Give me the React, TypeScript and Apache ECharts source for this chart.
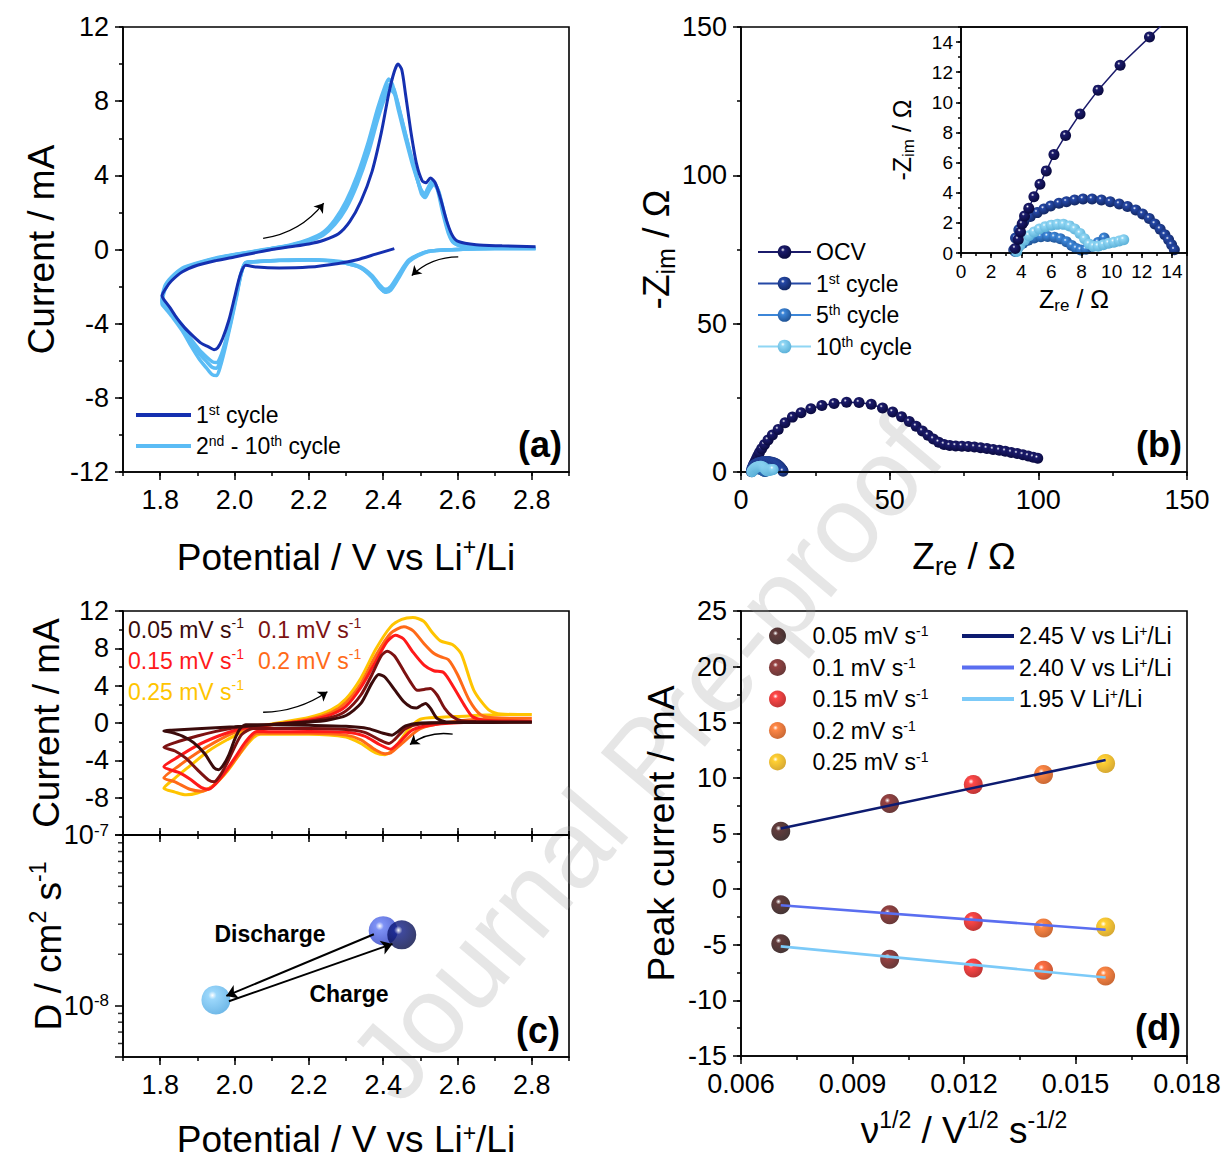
import React, { useEffect, useRef } from "react";
import * as echarts from "echarts";

const FONT = '"Liberation Sans", Arial, Helvetica, sans-serif';

// ---------------- (a) CV, 1st and 2nd-10th cycles ----------------
const cvFirstCycle = [
  [2.43, 0.05], [2.38, -0.25], [2.33, -0.55], [2.28, -0.75], [2.2, -0.95], [2.12, -1.0], [2.06, -0.95], [2.03, -0.85],
  [2.015, -1.4], [2.0, -2.6], [1.985, -3.8], [1.968, -4.8], [1.955, -5.3], [1.945, -5.4], [1.93, -5.25], [1.91, -5.05],
  [1.89, -4.7], [1.865, -4.2], [1.845, -3.7], [1.825, -3.1], [1.81, -2.7], [1.805, -2.5], [1.815, -2.1], [1.83, -1.7],
  [1.86, -1.2], [1.9, -0.85], [1.95, -0.6], [2.0, -0.4], [2.05, -0.2], [2.1, 0.0], [2.15, 0.15], [2.2, 0.3], [2.24, 0.5],
  [2.28, 0.85], [2.31, 1.5], [2.34, 2.6], [2.37, 4.2], [2.395, 6.3], [2.415, 8.4], [2.43, 9.6], [2.44, 10.0], [2.45, 9.7],
  [2.46, 8.4], [2.475, 6.3], [2.49, 4.6], [2.505, 3.7], [2.515, 3.6], [2.527, 3.85], [2.54, 3.6], [2.555, 2.7], [2.57, 1.6],
  [2.585, 0.8], [2.6, 0.45], [2.65, 0.25], [2.72, 0.2], [2.81, 0.15],
];
const cvCycle2 = [
  [2.81, 0.05], [2.7, 0.05], [2.6, 0.0], [2.52, -0.1], [2.47, -0.6], [2.44, -1.5], [2.42, -2.1], [2.405, -2.3], [2.39, -2.0],
  [2.37, -1.5], [2.34, -1.0], [2.3, -0.75], [2.25, -0.6], [2.2, -0.55], [2.12, -0.58], [2.06, -0.65], [2.03, -0.7],
  [2.018, -1.3], [2.005, -2.6], [1.99, -4.0], [1.975, -5.3], [1.962, -6.3], [1.952, -6.8], [1.94, -6.75], [1.925, -6.4],
  [1.905, -5.9], [1.88, -5.1], [1.86, -4.4], [1.835, -3.7], [1.815, -3.2], [1.805, -2.95], [1.812, -2.2], [1.83, -1.6],
  [1.86, -1.1], [1.9, -0.8], [1.95, -0.5], [2.0, -0.3], [2.05, -0.15], [2.1, 0.05], [2.15, 0.25], [2.2, 0.55], [2.24, 0.95],
  [2.27, 1.6], [2.3, 2.6], [2.33, 4.0], [2.36, 5.8], [2.385, 7.6], [2.405, 8.8], [2.415, 9.2], [2.425, 8.9], [2.44, 7.6],
  [2.46, 6.0], [2.48, 4.5], [2.5, 3.3], [2.51, 2.9], [2.52, 3.3], [2.532, 3.7], [2.545, 3.3], [2.56, 2.0], [2.575, 0.9],
  [2.59, 0.35], [2.64, 0.12], [2.81, 0.05],
];
const cvCycle5 = [
  [2.81, 0.05], [2.7, 0.05], [2.6, 0.0], [2.52, -0.1], [2.47, -0.55], [2.44, -1.4], [2.42, -2.0], [2.405, -2.15], [2.39, -1.9],
  [2.37, -1.4], [2.34, -0.95], [2.3, -0.7], [2.25, -0.58], [2.2, -0.55], [2.12, -0.58], [2.06, -0.65], [2.03, -0.7],
  [2.018, -1.3], [2.005, -2.5], [1.99, -3.9], [1.975, -5.1], [1.962, -6.0], [1.952, -6.4], [1.94, -6.35], [1.925, -6.05],
  [1.905, -5.6], [1.88, -4.9], [1.86, -4.25], [1.835, -3.6], [1.815, -3.1], [1.805, -2.85], [1.812, -2.1], [1.83, -1.55],
  [1.86, -1.05], [1.9, -0.75], [1.95, -0.48], [2.0, -0.28], [2.05, -0.12], [2.1, 0.05], [2.15, 0.22], [2.2, 0.5], [2.24, 0.85],
  [2.27, 1.45], [2.3, 2.4], [2.33, 3.7], [2.36, 5.5], [2.385, 7.3], [2.405, 8.5], [2.418, 8.9], [2.43, 8.6], [2.445, 7.4],
  [2.465, 5.8], [2.485, 4.3], [2.5, 3.3], [2.512, 3.0], [2.522, 3.3], [2.535, 3.6], [2.548, 3.2], [2.562, 2.0], [2.577, 0.9],
  [2.592, 0.35], [2.64, 0.12], [2.81, 0.05],
];
const cvCycle10 = [
  [2.81, 0.05], [2.7, 0.05], [2.6, 0.0], [2.52, -0.12], [2.47, -0.65], [2.44, -1.6], [2.42, -2.2], [2.408, -2.3], [2.39, -2.05],
  [2.37, -1.5], [2.34, -1.0], [2.3, -0.75], [2.25, -0.6], [2.2, -0.56], [2.12, -0.6], [2.06, -0.66], [2.03, -0.72],
  [2.018, -1.25], [2.005, -2.4], [1.99, -3.8], [1.975, -5.0], [1.962, -5.8], [1.952, -6.1], [1.94, -6.05], [1.925, -5.8],
  [1.905, -5.4], [1.88, -4.75], [1.86, -4.1], [1.835, -3.5], [1.815, -3.0], [1.805, -2.75], [1.812, -2.0], [1.83, -1.5],
  [1.86, -1.0], [1.9, -0.72], [1.95, -0.45], [2.0, -0.27], [2.05, -0.1], [2.1, 0.06], [2.15, 0.2], [2.2, 0.45], [2.24, 0.8],
  [2.27, 1.35], [2.3, 2.2], [2.33, 3.5], [2.36, 5.2], [2.385, 7.0], [2.405, 8.2], [2.42, 8.6], [2.433, 8.3], [2.448, 7.2],
  [2.468, 5.6], [2.488, 4.1], [2.503, 3.0], [2.513, 2.8], [2.524, 3.2], [2.537, 3.5], [2.55, 3.1], [2.565, 1.9], [2.58, 0.85],
  [2.595, 0.3], [2.64, 0.1], [2.81, 0.05],
];
const arrowAnodicA = [[2.077, 0.6], [2.24, 2.5]];
const arrowCathodicA = [[2.602, -0.4], [2.477, -1.4]];

// ---------------- (b) EIS Nyquist ----------------
const eisOCV = [
  [3.6, 0.3], [3.8, 0.9], [3.95, 1.4], [4.06, 1.93], [4.22, 2.46], [4.5, 2.97], [4.84, 3.74], [5.24, 4.57], [5.66, 5.45],
  [6.17, 6.53], [6.94, 7.8], [7.9, 9.23], [9.1, 10.81], [10.56, 12.46], [12.51, 14.33], [14.8, 16.6], [17.3, 18.5],
  [20.2, 20.0], [23.5, 21.3], [27.2, 22.4], [31.3, 23.1], [35.5, 23.5], [39.7, 23.4], [43.8, 22.8], [47.6, 21.6],
  [51.0, 20.2], [54.0, 18.6], [56.6, 17.0], [58.9, 15.4], [61.0, 13.8], [62.9, 12.4], [64.7, 11.1], [66.5, 10.0],
  [68.3, 9.3], [70.2, 8.9], [72.2, 8.8], [74.3, 8.7], [76.4, 8.6], [78.5, 8.4], [80.6, 8.2], [82.7, 7.9], [84.8, 7.6],
  [86.9, 7.3], [88.9, 7.0], [90.9, 6.6], [92.9, 6.2], [94.8, 5.8], [96.6, 5.4], [98.3, 5.0], [99.8, 4.6],
];
const eis1st = [
  [3.5, 0.2], [3.62, 0.99], [3.84, 1.54], [4.17, 2.09], [4.6, 2.42], [5.06, 2.68], [5.5, 2.92], [5.95, 3.12], [6.5, 3.3],
  [7.0, 3.4], [7.54, 3.52], [8.1, 3.58], [8.7, 3.58], [9.32, 3.52], [9.9, 3.4], [10.5, 3.25], [11.05, 3.08], [11.6, 2.86],
  [12.05, 2.59], [12.5, 2.29], [12.87, 1.93], [13.22, 1.58], [13.53, 1.21], [13.78, 0.88], [13.98, 0.55], [14.16, 0.22],
];
const eis5th = [
  [3.6, 0.1], [3.8, 0.4], [4.1, 0.65], [4.45, 0.85], [4.85, 1.0], [5.3, 1.08], [5.75, 1.1], [6.2, 1.05], [6.6, 0.95],
  [7.0, 0.75], [7.35, 0.5], [7.65, 0.3], [7.95, 0.2], [8.3, 0.25], [8.7, 0.45], [9.1, 0.7], [9.5, 1.0],
];
const eis10th = [
  [3.7, 0.1], [3.9, 0.5], [4.2, 0.85], [4.5, 1.15], [4.85, 1.4], [5.2, 1.6], [5.6, 1.75], [6.0, 1.85], [6.4, 1.9],
  [6.8, 1.9], [7.2, 1.8], [7.55, 1.6], [7.9, 1.3], [8.2, 0.95], [8.5, 0.6], [8.8, 0.45], [9.1, 0.45], [9.45, 0.55],
  [9.8, 0.65], [10.15, 0.72], [10.5, 0.8], [10.8, 0.88],
];

// ---------------- (c) CV at different scan rates + diffusion coefficient ----------------
const scanRates = ["0.05", "0.1", "0.15", "0.2", "0.25"];
const cvRate005 = [
  [2.8, 0.08], [2.6, 0.05], [2.5, 0.0], [2.46, -0.3], [2.44, -0.9], [2.424, -1.3], [2.4, -1.1], [2.36, -0.6], [2.3, -0.35],
  [2.2, -0.25], [2.1, -0.2], [2.03, -0.2], [2.015, -0.6], [2.0, -1.8], [1.985, -3.4], [1.97, -4.5], [1.957, -5.0],
  [1.945, -4.8], [1.92, -3.3], [1.89, -2.1], [1.86, -1.4], [1.83, -1.0], [1.81, -0.85], [1.83, -0.78], [1.9, -0.62],
  [2.0, -0.4], [2.1, -0.15], [2.2, 0.1], [2.25, 0.3], [2.3, 0.8], [2.34, 2.1], [2.37, 4.3], [2.388, 5.2], [2.405, 4.9],
  [2.43, 3.6], [2.455, 2.3], [2.475, 1.7], [2.49, 1.6], [2.503, 1.9], [2.514, 2.1], [2.527, 1.6], [2.545, 0.5],
  [2.57, 0.12], [2.8, 0.08],
];
const cvRate010 = [
  [2.8, 0.1], [2.6, 0.05], [2.5, -0.1], [2.46, -0.6], [2.43, -1.8], [2.415, -2.2], [2.39, -1.8], [2.35, -1.0], [2.3, -0.7],
  [2.2, -0.6], [2.1, -0.6], [2.05, -0.6], [2.02, -1.2], [2.0, -2.6], [1.98, -4.3], [1.96, -5.7], [1.945, -6.3],
  [1.93, -6.1], [1.9, -5.0], [1.87, -3.8], [1.84, -3.0], [1.81, -2.6], [1.84, -2.1], [1.9, -1.4], [1.95, -0.9],
  [2.0, -0.5], [2.1, -0.15], [2.2, 0.2], [2.26, 0.6], [2.3, 1.3], [2.34, 3.0], [2.37, 5.2], [2.395, 7.2], [2.411, 7.7],
  [2.43, 7.2], [2.455, 5.6], [2.475, 4.3], [2.492, 3.5], [2.51, 3.6], [2.527, 3.7], [2.545, 3.0], [2.565, 1.6],
  [2.586, 0.7], [2.61, 0.25], [2.65, 0.15], [2.8, 0.1],
];
const cvRate015 = [
  [2.8, 0.2], [2.65, 0.12], [2.55, -0.1], [2.48, -0.7], [2.44, -2.2], [2.42, -2.8], [2.39, -2.3], [2.35, -1.4], [2.3, -1.0],
  [2.2, -0.9], [2.1, -0.95], [2.06, -0.9], [2.03, -2.0], [2.0, -3.8], [1.97, -5.5], [1.945, -6.7], [1.93, -7.1],
  [1.91, -6.9], [1.88, -6.0], [1.85, -5.3], [1.81, -4.7], [1.85, -3.6], [1.9, -2.4], [1.95, -1.5], [2.0, -0.8],
  [2.05, -0.4], [2.1, -0.2], [2.2, 0.3], [2.26, 0.9], [2.3, 1.8], [2.34, 3.8], [2.38, 6.6], [2.41, 8.7], [2.433, 9.4],
  [2.455, 9.0], [2.48, 7.6], [2.51, 6.2], [2.536, 5.6], [2.563, 5.4], [2.59, 3.8], [2.617, 2.0], [2.64, 0.7],
  [2.67, 0.3], [2.8, 0.2],
];
const cvRate020 = [
  [2.8, 0.5], [2.68, 0.45], [2.58, 0.1], [2.5, -0.6], [2.45, -2.2], [2.42, -3.2], [2.405, -3.3], [2.38, -2.9], [2.34, -1.8],
  [2.3, -1.3], [2.2, -1.1], [2.1, -1.1], [2.06, -1.1], [2.04, -1.8], [2.01, -3.5], [1.97, -5.6], [1.94, -6.8],
  [1.91, -7.3], [1.88, -7.1], [1.84, -6.3], [1.81, -5.9], [1.85, -4.6], [1.9, -3.2], [1.95, -2.0], [2.0, -1.0],
  [2.05, -0.45], [2.1, -0.2], [2.2, 0.4], [2.26, 1.1], [2.3, 2.2], [2.34, 4.2], [2.38, 7.2], [2.42, 9.6], [2.456, 10.3],
  [2.48, 9.9], [2.51, 8.5], [2.535, 7.5], [2.554, 7.1], [2.575, 6.8], [2.6, 5.2], [2.631, 2.5], [2.662, 0.9],
  [2.7, 0.55], [2.8, 0.5],
];
const cvRate025 = [
  [2.8, 0.9], [2.72, 0.9], [2.6, 0.7], [2.55, 0.6], [2.5, 0.4], [2.47, -0.6], [2.44, -2.2], [2.42, -3.1], [2.405, -3.4],
  [2.38, -3.2], [2.34, -2.2], [2.3, -1.5], [2.2, -1.2], [2.1, -1.2], [2.07, -1.2], [2.05, -1.6], [2.02, -3.0],
  [1.98, -5.2], [1.94, -6.8], [1.9, -7.5], [1.87, -7.7], [1.84, -7.4], [1.81, -7.0], [1.84, -5.9], [1.88, -4.6],
  [1.93, -3.0], [1.98, -1.8], [2.03, -0.8], [2.1, -0.1], [2.2, 0.6], [2.26, 1.4], [2.3, 2.6], [2.34, 4.8], [2.38, 7.9],
  [2.42, 10.3], [2.45, 11.1], [2.48, 11.3], [2.509, 10.9], [2.53, 9.8], [2.554, 8.8], [2.586, 8.4], [2.61, 7.4],
  [2.644, 3.5], [2.684, 1.4], [2.716, 0.96], [2.8, 0.9],
];
const arrowAnodicC = [[2.077, 1.15], [2.25, 3.35]];
const arrowCathodicC = [[2.587, -1.2], [2.472, -2.3]];
const peakPotential = [1.95, 2.4, 2.45];
const diffusionCoef = [1.08e-8, 2.75e-8, 2.6e-8];
const arrowDischarge = [[2.375, 2.62e-8], [1.978, 1.14e-8]];
const arrowCharge = [[1.985, 1.06e-8], [2.425, 2.3e-8]];
const logMinorTicks = [6e-9, 7e-9, 8e-9, 9e-9, 2e-8, 3e-8, 4e-8, 5e-8, 6e-8, 7e-8, 8e-8, 9e-8];

// ---------------- (d) Randles-Sevcik ----------------
const sqrtScanRate = [0.00707, 0.01, 0.01225, 0.01414, 0.01581];
const ipeak245 = [5.2, 7.7, 9.4, 10.3, 11.3];
const ipeak240 = [-1.4, -2.3, -2.9, -3.5, -3.4];
const ipeak195 = [-4.9, -6.3, -7.1, -7.3, -7.8];
const fitRange = [0.00707, 0.01581];
const fit245 = [5.45, 11.6];
const fit240 = [-1.45, -3.65];
const fit195 = [-5.15, -7.95];

// ---------------- ticks ----------------
const potTicks = [1.8, 2.0, 2.2, 2.4, 2.6, 2.8];
const curTicks = [-12, -8, -4, 0, 4, 8, 12];
const curLabelsC = [-8, -4, 0, 4, 8, 12];
const zTicks = [0, 50, 100, 150];
const zInsetTicks = [0, 2, 4, 6, 8, 10, 12, 14];
const rootTicks = [0.006, 0.009, 0.012, 0.015, 0.018];
const peakTicks = [-15, -10, -5, 0, 5, 10, 15, 20, 25];

// ---------------- styles ----------------
const rateColors = ["#3b0b0b", "#7d1212", "#ff1a1a", "#ff6a18", "#ffc400"];
const rateDark = ["#140303", "#3e0606", "#a80000", "#b84000", "#c99000"];

const LEG: Record<string, string> = {
  a1: "1{s|st} cycle",
  a2: "2{s|nd} - 10{s|th} cycle",
  bOCV: "OCV",
  b1: "1{s|st} cycle",
  b5: "5{s|th} cycle",
  b10: "10{s|th} cycle",
  r0: "0.05 mV s{s|-1}",
  r1: "0.1 mV s{s|-1}",
  r2: "0.15 mV s{s|-1}",
  r3: "0.2 mV s{s|-1}",
  r4: "0.25 mV s{s|-1}",
  f245: "2.45 V vs Li{s|+}/Li",
  f240: "2.40 V vs Li{s|+}/Li",
  f195: "1.95 V Li{s|+}/Li",
};

function richFor(fs: number) {
  return {
    s: { fontSize: Math.round(fs * 0.62), lineHeight: Math.round(fs * 0.5), verticalAlign: "top", fontFamily: FONT },
    b: { fontSize: Math.round(fs * 0.68), lineHeight: Math.round(fs * 0.25), verticalAlign: "bottom", fontFamily: FONT },
  };
}

function sphere(base: string, dark: string) {
  return {
    type: "radial",
    x: 0.38,
    y: 0.34,
    r: 0.72,
    colorStops: [
      { offset: 0, color: "#ffffff" },
      { offset: 0.2, color: base },
      { offset: 1, color: dark },
    ],
  };
}

const tickLine = { color: "#000", width: 1.5 };

function major(o: any) {
  const fs = o.fs ?? 27;
  const nfs = o.nfs ?? 37;
  return {
    type: "value",
    gridIndex: o.grid,
    position: o.pos,
    min: o.min,
    max: o.max,
    axisLine: { show: true, onZero: false, lineStyle: { color: "#000", width: 1.6 } },
    axisTick: { show: true, inside: false, length: o.tickLen ?? 8, customValues: o.ticks, lineStyle: tickLine },
    axisLabel: o.labels
      ? {
          show: true,
          customValues: o.labels,
          formatter: o.fmt,
          fontSize: fs,
          margin: o.margin ?? 14,
          color: "#000",
          fontFamily: FONT,
          hideOverlap: false,
          rich: richFor(fs),
        }
      : { show: false },
    splitLine: { show: false },
    minorTick: { show: false },
    name: o.name,
    nameLocation: "middle",
    nameGap: o.nameGap,
    nameMoveOverlap: false,
    nameTextStyle: {
      fontSize: nfs,
      fontFamily: FONT,
      color: "#000",
      lineHeight: o.nlh ?? Math.round(nfs * 1.2),
      rich: richFor(nfs),
    },
    z: 5,
  };
}

function minor(grid: number, pos: string, min: number, max: number, step: number, len = 4) {
  return {
    type: "value",
    gridIndex: grid,
    position: pos,
    min,
    max,
    interval: step,
    axisLine: { show: false, onZero: false },
    axisTick: { show: true, inside: false, length: len, lineStyle: tickLine },
    axisLabel: { show: false },
    splitLine: { show: false },
    z: 5,
  };
}

const f0 = (v: number) => String(Math.round(v));
const f1 = (v: number) => v.toFixed(1);
const f3 = (v: number) => v.toFixed(3);
const logFmt = (v: number) => {
  const l = Math.log10(v);
  const e = Math.round(l);
  if (Math.abs(l - e) > 0.01) return "";
  return "10{s|" + e + "}";
};

function cvLine(name: string, data: number[][], xi: number, yi: number, color: string, width: number, z: number) {
  return {
    type: "line",
    name,
    data,
    xAxisIndex: xi,
    yAxisIndex: yi,
    symbol: "none",
    smooth: 0.25,
    lineStyle: { color, width },
    itemStyle: { color },
    z,
    silent: true,
  };
}

function eisLine(name: string, data: number[][], xi: number, yi: number, base: string, dark: string, z: number) {
  return {
    type: "line",
    name,
    data,
    xAxisIndex: xi,
    yAxisIndex: yi,
    symbol: "circle",
    symbolSize: 11,
    showSymbol: true,
    showAllSymbol: true,
    lineStyle: { color: base, width: 1.5 },
    itemStyle: { color: sphere(base, dark) },
    z,
    silent: true,
  };
}

function arrows(xi: number, yi: number, list: { c: number[][]; k: number }[], width: number, size: number) {
  return {
    type: "lines",
    coordinateSystem: "cartesian2d",
    xAxisIndex: xi,
    yAxisIndex: yi,
    symbol: ["none", "arrow"],
    symbolSize: size,
    silent: true,
    z: 6,
    lineStyle: { color: "#000", width, opacity: 1 },
    data: list.map((a) => ({ coords: a.c, lineStyle: { curveness: a.k } })),
  };
}

const gridBase = {
  show: true,
  borderColor: "#000",
  borderWidth: 1.6,
  backgroundColor: "transparent",
  containLabel: false,
  outerBoundsMode: "none",
};

function buildOption() {
  const cvRates = [cvRate005, cvRate010, cvRate015, cvRate020, cvRate025];
  const row195Colors = [rateColors[0], rateColors[1], rateColors[2], "#ff4a14", rateColors[3]];
  const row195Dark = [rateDark[0], rateDark[1], rateDark[2], "#b02a00", rateDark[3]];
  const dColors = [
    ["#82cdfa", "#48a4e0"],
    ["#5d76f2", "#2a3cc0"],
    ["#0f1c84", "#040a40"],
  ];

  const xAxis = [
    major({ grid: 0, pos: "bottom", min: 1.7, max: 2.9, ticks: potTicks, labels: potTicks, fmt: f1, name: "Potential / V vs Li{s|+}/Li", nameGap: 63 }), // 0
    minor(0, "bottom", 1.7, 2.9, 0.1), // 1
    major({ grid: 1, pos: "bottom", min: 0, max: 150, ticks: zTicks, labels: zTicks, fmt: f0, name: "Z{b|re} / Ω", nameGap: 62 }), // 2
    minor(1, "bottom", 0, 150, 25), // 3
    major({ grid: 2, pos: "bottom", min: 0, max: 15, ticks: zInsetTicks, labels: zInsetTicks, fmt: f0, fs: 19, margin: 9, tickLen: 5, name: "Z{b|re} / Ω", nameGap: 31, nfs: 25 }), // 4
    minor(2, "bottom", 0, 15, 1, 3), // 5
    major({ grid: 3, pos: "bottom", min: 1.7, max: 2.9, ticks: potTicks, labels: null, tickLen: 7 }), // 6
    minor(3, "bottom", 1.7, 2.9, 0.1), // 7
    major({ grid: 4, pos: "bottom", min: 1.7, max: 2.9, ticks: potTicks, labels: potTicks, fmt: f1, name: "Potential / V vs Li{s|+}/Li", nameGap: 64, nlh: 36 }), // 8
    minor(4, "bottom", 1.7, 2.9, 0.1), // 9
    major({ grid: 4, pos: "top", min: 1.7, max: 2.9, ticks: potTicks, labels: null, tickLen: 7 }), // 10
    minor(4, "top", 1.7, 2.9, 0.1), // 11
    major({ grid: 5, pos: "bottom", min: 0.006, max: 0.018, ticks: rootTicks, labels: rootTicks, fmt: f3, name: "ν{s|1/2} / V{s|1/2} s{s|-1/2}", nameGap: 52 }), // 12
    minor(5, "bottom", 0.006, 0.018, 0.0015), // 13
  ];

  const yAxis: any[] = [
    major({ grid: 0, pos: "left", min: -12, max: 12, ticks: curTicks, labels: curTicks, fmt: f0, name: "Current / mA", nameGap: 60 }), // 0
    minor(0, "left", -12, 12, 2), // 1
    major({ grid: 1, pos: "left", min: 0, max: 150, ticks: zTicks, labels: zTicks, fmt: f0, name: "-Z{b|im} / Ω", nameGap: 63 }), // 2
    minor(1, "left", 0, 150, 25), // 3
    major({ grid: 2, pos: "left", min: 0, max: 15, ticks: zInsetTicks, labels: zInsetTicks, fmt: f0, fs: 19, margin: 8, tickLen: 5, name: "-Z{b|im} / Ω", nameGap: 44, nfs: 25 }), // 4
    minor(2, "left", 0, 15, 1, 3), // 5
    major({ grid: 3, pos: "left", min: -12, max: 12, ticks: curTicks, labels: curLabelsC, fmt: f0, name: "Current / mA", nameGap: 55 }), // 6
    minor(3, "left", -12, 12, 2), // 7
    {
      type: "log",
      logBase: 10,
      gridIndex: 4,
      position: "left",
      min: 5e-9,
      max: 1e-7,
      axisLine: { show: true, onZero: false, lineStyle: { color: "#000", width: 1.6 } },
      axisTick: { show: true, inside: false, length: 8, lineStyle: tickLine },
      axisLabel: { formatter: logFmt, fontSize: 27, margin: 14, color: "#000", fontFamily: FONT, rich: richFor(27) },
      splitLine: { show: false },
      minorTick: { show: false },
      name: "D / cm{s|2} s{s|-1}",
      nameLocation: "middle",
      nameGap: 53,
      nameMoveOverlap: false,
      nameTextStyle: { fontSize: 37, fontFamily: FONT, color: "#000", lineHeight: 44, rich: richFor(37) },
      z: 5,
    }, // 8
    major({ grid: 5, pos: "left", min: -15, max: 25, ticks: peakTicks, labels: peakTicks, fmt: f0, name: "Peak current / mA", nameGap: 58 }), // 9
    minor(5, "left", -15, 25, 2.5), // 10
  ];

  const series: any[] = [];
  // (a)
  series.push(cvLine("a2", cvCycle2, 0, 0, "#5bbcf5", 3.5, 2));
  series.push(cvLine("a2", cvCycle5, 0, 0, "#5bbcf5", 3.5, 2));
  series.push(cvLine("a2", cvCycle10, 0, 0, "#5bbcf5", 3.5, 2));
  series.push(cvLine("a1", cvFirstCycle, 0, 0, "#1530b0", 3, 3));
  series.push(arrows(0, 0, [{ c: arrowAnodicA, k: -0.2 }, { c: arrowCathodicA, k: -0.2 }], 1.3, 9));
  // (b) main
  series.push(eisLine("bOCV", eisOCV, 2, 2, "#1b1b6b", "#08083a", 3));
  series.push(eisLine("b1", eis1st, 2, 2, "#2548a6", "#11245c", 4));
  series.push(eisLine("b5", eis5th, 2, 2, "#3c86d8", "#1d4f90", 5));
  series.push(eisLine("b10", eis10th, 2, 2, "#8fd6f4", "#58aed6", 6));
  // (b) inset
  series.push(eisLine("i1", eis1st, 4, 4, "#2548a6", "#11245c", 3));
  series.push(eisLine("i5", eis5th, 4, 4, "#3c86d8", "#1d4f90", 4));
  series.push(eisLine("i10", eis10th, 4, 4, "#8fd6f4", "#58aed6", 5));
  series.push(eisLine("iOCV", eisOCV, 4, 4, "#1b1b6b", "#08083a", 6));
  // (c) top
  for (let i = cvRates.length - 1; i >= 0; i--) {
    series.push(cvLine("c" + i, cvRates[i], 6, 6, rateColors[i], 3, 2 + (cvRates.length - i)));
  }
  series.push(arrows(6, 6, [{ c: arrowAnodicC, k: -0.15 }, { c: arrowCathodicC, k: -0.2 }], 1.3, 9));
  // (c) bottom
  series.push({
    type: "scatter",
    name: "D",
    xAxisIndex: 8,
    yAxisIndex: 8,
    symbolSize: 29,
    silent: true,
    z: 4,
    data: peakPotential.map((p, i) => ({ value: [p, diffusionCoef[i]], itemStyle: { color: sphere(dColors[i][0], dColors[i][1]) } })),
  });
  series.push(arrows(8, 8, [{ c: arrowDischarge, k: 0 }, { c: arrowCharge, k: 0 }], 2, 11));
  series.push({
    type: "scatter",
    name: "logMinor",
    xAxisIndex: 8,
    yAxisIndex: 8,
    symbol: "rect",
    symbolSize: [5, 1.5],
    symbolOffset: [-2.5, 0],
    clip: false,
    silent: true,
    z: 6,
    itemStyle: { color: "#000" },
    data: logMinorTicks.map((v) => [1.7, v]),
  });
  // (d)
  for (let i = 0; i < sqrtScanRate.length; i++) {
    const x = sqrtScanRate[i];
    series.push({
      type: "scatter",
      name: "r" + i,
      xAxisIndex: 12,
      yAxisIndex: 9,
      symbolSize: 19,
      silent: true,
      z: 3,
      itemStyle: { color: sphere(rateColors[i], rateDark[i]) },
      data: [
        [x, ipeak245[i]],
        [x, ipeak240[i]],
        { value: [x, ipeak195[i]], itemStyle: { color: sphere(row195Colors[i], row195Dark[i]) } },
      ],
    });
  }
  const fits: [string, number[], string][] = [
    ["f245", fit245, "#0d1b70"],
    ["f240", fit240, "#5a6ef0"],
    ["f195", fit195, "#7ccaf8"],
  ];
  fits.forEach(([name, f, color]) => {
    series.push({
      type: "line",
      name,
      xAxisIndex: 12,
      yAxisIndex: 9,
      symbol: "none",
      silent: true,
      z: 4,
      lineStyle: { color, width: 2.6 },
      itemStyle: { color },
      data: [
        [fitRange[0], f[0]],
        [fitRange[1], f[1]],
      ],
    });
  });

  const legText = (fs: number) => ({ fontSize: fs, fontFamily: FONT, color: "#000", lineHeight: 24, rich: richFor(fs) });
  const legBase = { orient: "vertical", padding: 0, selectedMode: false, formatter: (n: string) => LEG[n], textStyle: legText(23) };
  const legend = [
    { ...legBase, data: ["a1", "a2"], left: 136, top: 403, icon: "rect", itemWidth: 55, itemHeight: 4, itemGap: 7 },
    { ...legBase, data: ["bOCV", "b1", "b5", "b10"], left: 757, top: 240, itemWidth: 53, itemHeight: 17, itemGap: 7.5 },
    { ...legBase, data: ["r0", "r1", "r2", "r3", "r4"], left: 769, top: 624, itemWidth: 60, itemHeight: 17, itemGap: 7.5 },
    { ...legBase, data: ["f245", "f240", "f195"], left: 962, top: 624, icon: "rect", itemWidth: 52, itemHeight: 4, itemGap: 7.5 },
  ];

  const gRich = (fs: number) => ({
    s: { fontSize: Math.round(fs * 0.62), lineHeight: Math.round(fs * 0.5), verticalAlign: "top", fontFamily: FONT },
  });
  const cLegendPos = [
    [128, 630],
    [258, 630],
    [128, 661],
    [258, 661],
    [128, 692],
  ];
  const elements: any[] = [
    {
      type: "text",
      x: 645,
      y: 758,
      rotation: 0.87,
      z: 1,
      silent: true,
      style: { text: "Journal Pre-proof", fontSize: 110, fontFamily: FONT, fill: "rgba(150,150,150,0.24)", align: "center", verticalAlign: "middle" },
    },
  ];
  scanRates.forEach((r, i) => {
    elements.push({
      type: "text",
      x: cLegendPos[i][0],
      y: cLegendPos[i][1],
      z: 100,
      style: { text: r + " mV s{s|-1}", fill: rateColors[i], fontSize: 23, fontFamily: FONT, lineHeight: 28, align: "left", verticalAlign: "middle", rich: gRich(23) },
    });
  });
  const panelLabels: [string, number, number][] = [
    ["(a)", 562, 444],
    ["(b)", 1182, 444],
    ["(c)", 560, 1030],
    ["(d)", 1181, 1027],
  ];
  panelLabels.forEach(([t, x, y]) => {
    elements.push({ type: "text", x, y, z: 100, style: { text: t, fontSize: 36, fontWeight: "bold", fontFamily: FONT, fill: "#000", align: "right", verticalAlign: "middle" } });
  });
  elements.push({ type: "text", x: 270, y: 934, z: 100, style: { text: "Discharge", fontSize: 23, fontWeight: "bold", fontFamily: FONT, fill: "#000", align: "center", verticalAlign: "middle" } });
  elements.push({ type: "text", x: 349, y: 994, z: 100, style: { text: "Charge", fontSize: 23, fontWeight: "bold", fontFamily: FONT, fill: "#000", align: "center", verticalAlign: "middle" } });

  return {
    animation: false,
    backgroundColor: "#ffffff",
    textStyle: { fontFamily: FONT },
    grid: [
      { ...gridBase, left: 123, top: 27, width: 446, height: 445 },
      { ...gridBase, left: 741, top: 27, width: 446, height: 445 },
      { ...gridBase, left: 961, top: 27, width: 226, height: 226 },
      { ...gridBase, left: 123, top: 611, width: 446, height: 224 },
      { ...gridBase, left: 123, top: 835, width: 446, height: 222 },
      { ...gridBase, left: 741, top: 611, width: 446, height: 445 },
    ],
    xAxis,
    yAxis,
    legend,
    graphic: { elements },
    series,
  };
}

export default function App() {
  const ref = useRef<HTMLDivElement>(null);
  useEffect(() => {
    document.body.style.margin = "0";
    const chart = echarts.init(ref.current as HTMLDivElement, null, { renderer: "svg" });
    chart.setOption(buildOption() as any);
    return () => chart.dispose();
  }, []);
  return <div ref={ref} style={{ width: 1227, height: 1159 }} />;
}
